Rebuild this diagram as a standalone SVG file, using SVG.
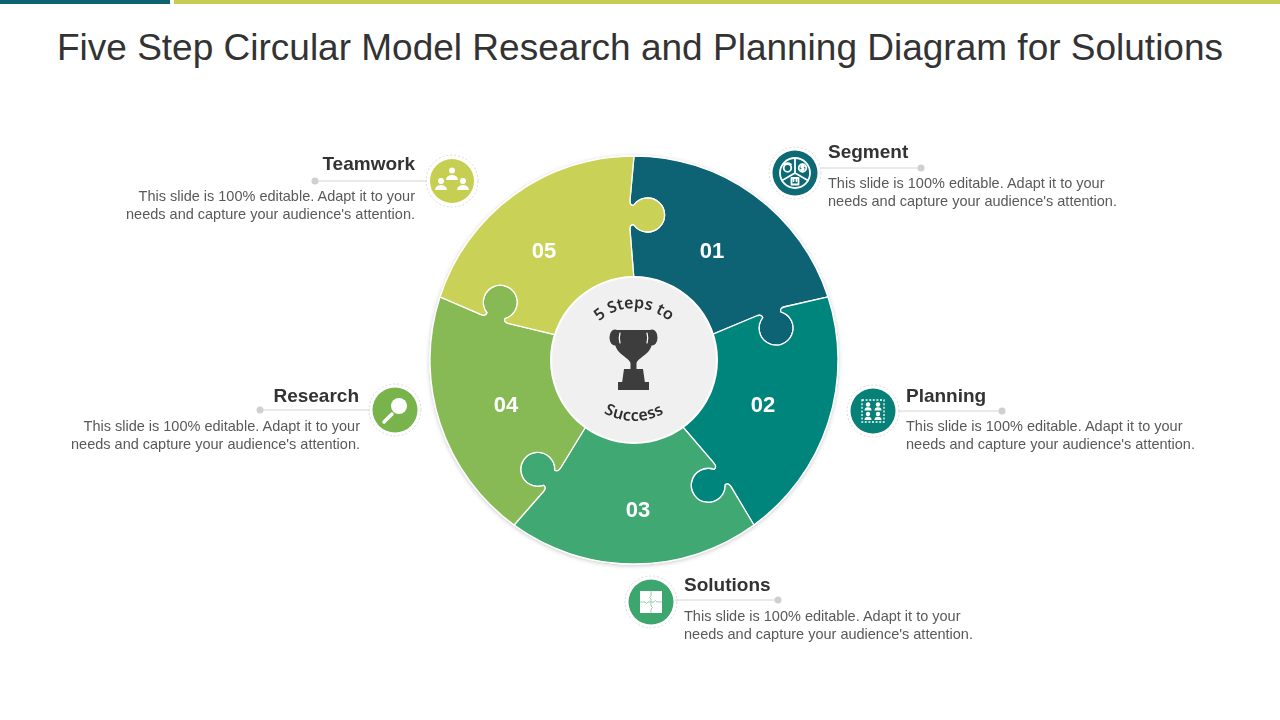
<svg xmlns="http://www.w3.org/2000/svg" xmlns:xlink="http://www.w3.org/1999/xlink" width="1280" height="720" viewBox="0 0 1280 720">
<style>
.title{font-family:"Liberation Sans",Arial,sans-serif;font-size:37px;fill:#333333}
.head{font-family:"Liberation Sans",Arial,sans-serif;font-size:19px;font-weight:bold;fill:#333333}
.desc{font-family:"Liberation Sans",Arial,sans-serif;font-size:14.5px;fill:#595959}
.num{font-family:"Liberation Sans",Arial,sans-serif;font-size:22px;font-weight:bold;fill:#ffffff;text-anchor:middle}
.arc{font-family:"Noto Sans","Liberation Sans",sans-serif;font-size:16px;font-weight:600;fill:#2e2e2e}
.piece{stroke:#ffffff;stroke-width:1.3;stroke-linejoin:round}
.ring{fill:none;stroke:#d9d9d9;stroke-width:1;stroke-dasharray:2 2}
.wl{fill:none;stroke:#ffffff;stroke-width:1.8;stroke-linecap:round;stroke-linejoin:round}
.wf{fill:#ffffff}
.conn line{stroke:#d6d6d6;stroke-width:1.2}
.conn circle{fill:#d0d0d0}
</style>
<defs>
<path id="piece" d="M0,-204 A204,204 0 0 1 194.02,-63.04 L150.93,-53.25 Q145.55,-52.02 146.78,-48.22 A17,17 0 1 1 128.71,-42.35 Q127.48,-46.15 122.40,-43.98 L76.08,-24.72 A80,80 0 0 0 0,-80 L-4,-130 Q-4.5,-135.5 -0.5,-135.5 A17,17 0 1 0 -0.5,-154.5 Q-4.5,-154.5 -4,-160 Z"/>
<path id="topArc" d="M582,360 A52,52 0 0 1 686,360"/>
<path id="botArc" d="M573,360 A61,61 0 0 0 695,360"/>
<filter id="sh" x="-10%" y="-10%" width="120%" height="120%">
<feDropShadow dx="0" dy="1" stdDeviation="2" flood-color="#000000" flood-opacity="0.22"/>
</filter>
</defs>
<rect width="1280" height="720" fill="#ffffff"/>
<rect x="0" y="0" width="170" height="4" fill="#0f6271"/>
<rect x="174" y="0" width="1106" height="4" fill="#c6cd52"/>
<text class="title" x="640" y="60" text-anchor="middle">Five Step Circular Model Research and Planning Diagram for Solutions</text>

<g id="wheel" filter="url(#sh)">
<g id="step01"><use xlink:href="#piece" class="piece" fill="#0a6473" transform="translate(634 360)"/></g>
<g id="step02"><use xlink:href="#piece" class="piece" fill="#05857b" transform="translate(634 360) rotate(72)"/></g>
<g id="step03"><use xlink:href="#piece" class="piece" fill="#40a872" transform="translate(634 360) rotate(144)"/></g>
<g id="step04"><use xlink:href="#piece" class="piece" fill="#87ba55" transform="translate(634 360) rotate(216)"/></g>
<g id="step05"><use xlink:href="#piece" class="piece" fill="#c9d156" transform="translate(634 360) rotate(288)"/></g>
</g>
<g id="numbers">
<text class="num" x="712" y="258">01</text>
<text class="num" x="763" y="412">02</text>
<text class="num" x="638" y="517">03</text>
<text class="num" x="506" y="412">04</text>
<text class="num" x="544" y="258">05</text>
</g>

<g id="center">
<circle cx="634" cy="360" r="83" fill="#f0f0f0" stroke="#ffffff" stroke-width="2"/>
<text class="arc"><textPath xlink:href="#topArc" startOffset="50%" text-anchor="middle">5 Steps to</textPath></text>
<text class="arc" letter-spacing="0.5"><textPath xlink:href="#botArc" startOffset="50%" text-anchor="middle">Success</textPath></text>
<g id="trophy" fill="#3d3d3d">
<ellipse cx="615" cy="337.5" rx="5.5" ry="8"/>
<ellipse cx="652" cy="337.5" rx="5.5" ry="8"/>
<path d="M615,330 L652,330 C654,338 653,346 648,352 C643,357 638,359 636.5,363 L636.5,370 L630.5,370 L630.5,363 C629,359 624,357 619,352 C614,346 613,338 615,330 Z"/>
<path d="M624,369 L643,369 L645,383 L622,383 Z"/>
<rect x="618" y="382" width="31" height="8"/>
<path d="M620,333 Q618.5,338 620,343" fill="none" stroke="#ffffff" stroke-width="1.2" stroke-linecap="round"/>
<path d="M647,333 Q648.5,338 647,343" fill="none" stroke="#ffffff" stroke-width="1.2" stroke-linecap="round"/>
</g>
</g>

<g class="conn" id="connectors">
<line x1="315" y1="181" x2="427" y2="181"/><circle cx="315" cy="181" r="3.5"/>
<line x1="821" y1="168" x2="921" y2="168"/><circle cx="921" cy="168" r="3.5"/>
<line x1="260" y1="410" x2="370" y2="410"/><circle cx="260" cy="410" r="3.5"/>
<line x1="898" y1="411" x2="1002" y2="411"/><circle cx="1002" cy="411" r="3.5"/>
<line x1="675" y1="600" x2="778" y2="600"/><circle cx="778" cy="600" r="3.5"/>
</g>

<g id="teamwork">
<circle class="ring" cx="452" cy="181" r="26"/>
<circle cx="452" cy="181" r="22" fill="#c6cf52"/>
<circle class="wf" cx="452" cy="170.5" r="3"/>
<path class="wf" d="M446,180 A6,5 0 0 1 458,180 Z"/>
<circle class="wf" cx="441" cy="181" r="3"/>
<path class="wf" d="M435,190 A6,5 0 0 1 447,190 Z"/>
<circle class="wf" cx="463" cy="181" r="3"/>
<path class="wf" d="M457,190 A6,5 0 0 1 469,190 Z"/>
<text class="head" x="415" y="170" text-anchor="end">Teamwork</text>
<text class="desc" x="415" y="201" text-anchor="end">This slide is 100% editable. Adapt it to your</text>
<text class="desc" x="415" y="219" text-anchor="end">needs and capture your audience's attention.</text>
</g>

<g id="segment">
<circle class="ring" cx="795" cy="173" r="26"/>
<circle cx="795" cy="173" r="22.5" fill="#0b6a74"/>
<circle class="wl" cx="795" cy="173" r="15" stroke-width="1.6"/>
<path class="wl" stroke-width="1.3" d="M795,173 L795,158 M795,173 L782,180.5 M795,173 L808,180.5"/>
<circle class="wl" stroke-width="1.2" cx="787.5" cy="168" r="3.8"/>
<path class="wl" stroke-width="1.1" d="M784,164.5 Q787.5,162 791,164.5"/>
<circle class="wl" stroke-width="1.2" cx="802.5" cy="168" r="3.8"/>
<path class="wl" stroke-width="1" d="M804,166.3 Q802.5,165 801.2,166.3 Q801,168 802.5,168 Q804,168.2 803.8,169.7 Q802.5,171 801,169.7 M802.5,164.5 L802.5,171.5"/>
<rect class="wl" stroke-width="1.2" x="791.5" y="178" width="7" height="6.5"/>
<path class="wl" stroke-width="1" d="M793.5,178 L793.5,181 M796.5,178 L796.5,181"/>
<text class="head" x="828" y="158">Segment</text>
<text class="desc" x="828" y="188">This slide is 100% editable. Adapt it to your</text>
<text class="desc" x="828" y="206">needs and capture your audience's attention.</text>
</g>

<g id="research">
<circle class="ring" cx="395" cy="410" r="26"/>
<circle cx="395" cy="410" r="22.5" fill="#79b34c"/>
<line x1="392" y1="414" x2="384" y2="422" stroke="#ffffff" stroke-width="3.5" stroke-linecap="round"/>
<circle class="wf" cx="399" cy="406" r="8"/>
<text class="head" x="359" y="402" text-anchor="end">Research</text>
<text class="desc" x="360" y="431" text-anchor="end">This slide is 100% editable. Adapt it to your</text>
<text class="desc" x="360" y="449" text-anchor="end">needs and capture your audience's attention.</text>
</g>

<g id="planning">
<circle class="ring" cx="873" cy="411" r="26"/>
<circle cx="873" cy="411" r="22.5" fill="#078177"/>
<rect x="862" y="400" width="22" height="22" fill="none" stroke="#ffffff" stroke-width="1.3" stroke-dasharray="2 1.6"/>
<circle class="wf" cx="868" cy="404.5" r="2.2"/>
<path class="wf" d="M864.5,410.5 A3.5,3.2 0 0 1 871.5,410.5 Z"/>
<circle class="wf" cx="878" cy="404.5" r="2.2"/>
<path class="wf" d="M874.5,410.5 A3.5,3.2 0 0 1 881.5,410.5 Z"/>
<circle class="wf" cx="868" cy="414" r="2.2"/>
<path class="wf" d="M864.5,420 A3.5,3.2 0 0 1 871.5,420 Z"/>
<circle class="wf" cx="878" cy="414" r="2.2"/>
<path class="wf" d="M874.5,420 A3.5,3.2 0 0 1 881.5,420 Z"/>
<text class="head" x="906" y="402">Planning</text>
<text class="desc" x="906" y="431">This slide is 100% editable. Adapt it to your</text>
<text class="desc" x="906" y="449">needs and capture your audience's attention.</text>
</g>

<g id="solutions">
<circle class="ring" cx="651" cy="602" r="26"/>
<circle cx="651" cy="602" r="22.5" fill="#3da66f"/>
<rect x="640" y="591" width="22" height="22" fill="#ffffff"/>
<path d="M651,591 L651,596 Q648,597.5 651,599 L651,602 L654,602 Q655.5,599 657,602 L662,602 M640,602 L645,602 Q646.5,605 648,602 L651,602 L651,606 Q654,607.5 651,609 L651,613" fill="none" stroke="#8fcba8" stroke-width="0.9"/>
<text class="head" x="684" y="591">Solutions</text>
<text class="desc" x="684" y="621">This slide is 100% editable. Adapt it to your</text>
<text class="desc" x="684" y="639">needs and capture your audience's attention.</text>
</g>
</svg>
